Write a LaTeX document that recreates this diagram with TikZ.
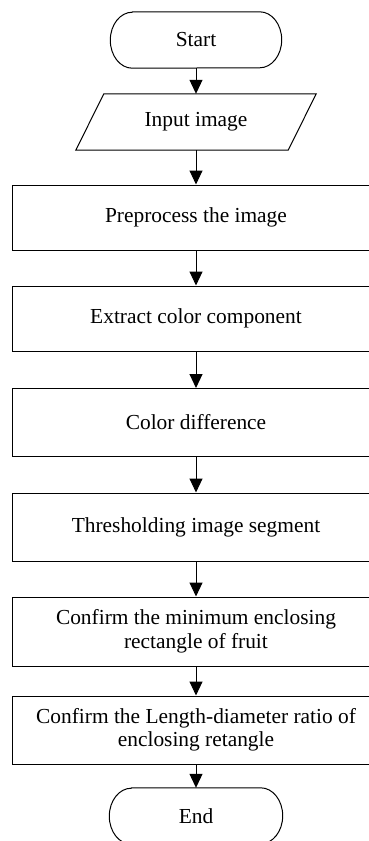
\documentclass[tikz,border=0pt]{standalone}
\usepackage{fontspec}
\setmainfont{Liberation Serif}
\usetikzlibrary{arrows.meta}
\begin{document}
\begin{tikzpicture}[x=1pt,y=1pt,
  every node/.style={font=\fontsize{21.4}{23.5}\selectfont, inner sep=0pt, align=center},
  stepbox/.style={draw, line width=1pt, minimum width=368pt},
  flow/.style={line width=1pt, -{Triangle[width=13pt,length=14pt]}},
  outline/.style={line width=1pt}
]
\useasboundingbox (0,0) rectangle (369,-841);
\clip (0,0) rectangle (369,-841);

% terminal: start
\node[minimum width=171pt, minimum height=56pt] (start) at (196,-40) {Start};
\draw[outline] ([xshift=22pt]start.north west) -- ([xshift=-22pt]start.north east)
  arc[start angle=90, end angle=-90, x radius=22pt, y radius=28pt]
  -- ([xshift=22pt]start.south west)
  arc[start angle=270, end angle=90, x radius=22pt, y radius=28pt] -- cycle;

% input (parallelogram)
\node[minimum width=212pt, minimum height=56pt] (input) at (196,-122) {Input image};
\draw[outline] ([xshift=14pt]input.north west) -- ([xshift=14pt]input.north east)
  -- ([xshift=-14pt]input.south east) -- ([xshift=-14pt]input.south west) -- cycle;

% process steps
\node[stepbox, minimum height=65pt] (pre) at (196,-217.5) {Preprocess the image};
\node[stepbox, minimum height=65pt] (ext) at (196,-318.5) {Extract color component};
\node[stepbox, minimum height=68pt] (dif) at (196,-422.5) {Color difference};
\node[stepbox, minimum height=68pt] (thr) at (196,-527) {Thresholding image segment};
\node[stepbox, minimum height=69pt] (rect) at (196,-631.5) {Confirm the minimum enclosing\\rectangle of fruit};
\node[stepbox, minimum height=68pt] (ratio) at (196,-730) {Confirm the Length-diameter ratio of\\enclosing retangle};

% terminal: end
\node[minimum width=173pt, minimum height=56pt] (end) at (196,-816) {End};
\draw[outline] ([xshift=22pt]end.north west) -- ([xshift=-22pt]end.north east)
  arc[start angle=90, end angle=-90, x radius=22pt, y radius=28pt]
  -- ([xshift=22pt]end.south west)
  arc[start angle=270, end angle=90, x radius=22pt, y radius=28pt] -- cycle;

% connectors
\draw[flow] (start.south) -- (input.north);
\draw[flow] (input.south) -- (pre.north);
\draw[flow] (pre.south) -- (ext.north);
\draw[flow] (ext.south) -- (dif.north);
\draw[flow] (dif.south) -- (thr.north);
\draw[flow] (thr.south) -- (rect.north);
\draw[flow] (rect.south) -- (ratio.north);
\draw[flow] (ratio.south) -- (end.north);
\end{tikzpicture}
\end{document}
